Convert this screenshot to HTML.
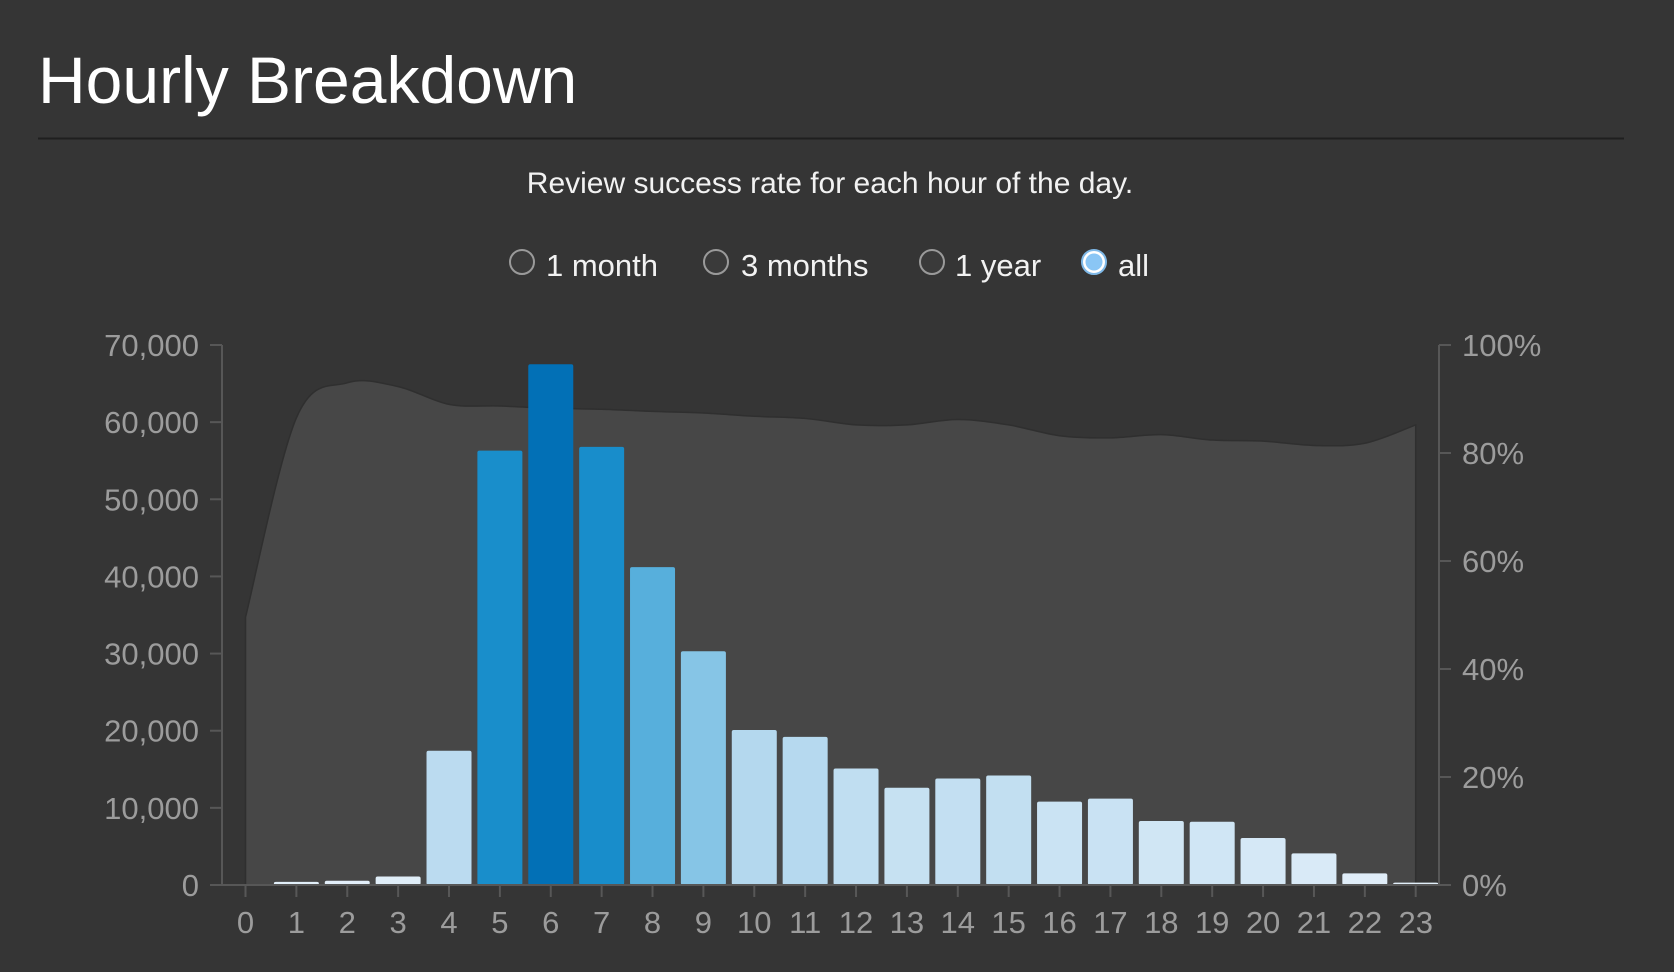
<!DOCTYPE html>
<html><head><meta charset="utf-8">
<style>
html,body{margin:0;padding:0;background:#353535;width:1674px;height:972px;overflow:hidden;font-family:"Liberation Sans",sans-serif;}
svg{position:absolute;left:0;top:0}
</style></head>
<body>
<svg id="chart" width="1674" height="972">
  <text x="38" y="103" font-size="66" fill="#ffffff">Hourly Breakdown</text>
  <line x1="38" y1="138.5" x2="1624" y2="138.5" stroke="#1f1f1f" stroke-width="2"/>
  <text x="830" y="193" font-size="30" fill="#f2f2f2" text-anchor="middle">Review success rate for each hour of the day.</text>
  <g font-size="31" fill="#f2f2f2">
    <g><circle cx="522" cy="262" r="12" fill="#3a3a3a" stroke="#9a9a9a" stroke-width="2"/><text x="546" y="276">1 month</text></g>
    <g><circle cx="716" cy="262" r="12" fill="#3a3a3a" stroke="#9a9a9a" stroke-width="2"/><text x="741" y="276">3 months</text></g>
    <g><circle cx="932" cy="262" r="12" fill="#3a3a3a" stroke="#9a9a9a" stroke-width="2"/><text x="955" y="276">1 year</text></g>
    <g><circle cx="1094" cy="262" r="12" fill="#ffffff" stroke="#7fb9e8" stroke-width="2"/><circle cx="1094" cy="262" r="8.5" fill="#8ac6f5"/><text x="1118" y="276">all</text></g>
  </g>
  <g id="plot"></g>
</svg>
<script>
const hours = ["0","1","2","3","4","5","6","7","8","9","10","11","12","13","14","15","16","17","18","19","20","21","22","23"];
const reviewCounts = [0,400,550,1100,17400,56300,67500,56800,41200,30300,20100,19200,15100,12600,13800,14200,10800,11200,8300,8200,6100,4100,1500,300];
const successRate = [49.6,86.5,93,92.3,89,88.7,88.3,88.1,87.7,87.4,86.8,86.4,85.2,85.2,86.2,85.2,83.2,82.8,83.4,82.4,82.2,81.4,81.8,85.2];
const countTicks = [0,10000,20000,30000,40000,50000,60000,70000];
const pctTicks = [0,20,40,60,80,100];

const NS="http://www.w3.org/2000/svg";
const plot=document.getElementById('plot');
const x0=245.5, x23=1415.7, step=(x23-x0)/23, barW=45;
const yTop=345, yBot=885;
const xScale=i=>x0+i*step;
const yCount=v=>yBot-(v/70000)*(yBot-yTop);
const yPct=v=>yBot-(v/100)*(yBot-yTop);
function mk(tag,attrs,parent){const e=document.createElementNS(NS,tag);for(const k in attrs)e.setAttribute(k,attrs[k]);(parent||plot).appendChild(e);return e;}

// success area
let pts=successRate.map((v,i)=>[xScale(i),yPct(v)]);
let d=`M${pts[0][0]},${yBot} L${pts[0][0]},${pts[0][1]}`;
for(let i=0;i<pts.length-1;i++){
  const p0=pts[Math.max(0,i-1)],p1=pts[i],p2=pts[i+1],p3=pts[Math.min(pts.length-1,i+2)];
  const c1=[p1[0]+(p2[0]-p0[0])/6,p1[1]+(p2[1]-p0[1])/6];
  const c2=[p2[0]-(p3[0]-p1[0])/6,p2[1]-(p3[1]-p1[1])/6];
  d+=` C${c1[0]},${c1[1]} ${c2[0]},${c2[1]} ${p2[0]},${p2[1]}`;
}
d+=` L${pts[pts.length-1][0]},${yBot} Z`;
const area=mk('path',{d:d,fill:'#474747',stroke:'#2f2f2f','stroke-width':1.5});



// colors
const stops=[[0,[227,239,249]],[0.3,[180,216,238]],[0.45,[134,197,230]],[0.6,[90,177,221]],[0.83,[26,143,204]],[1,[2,112,182]]];
function col(f){for(let i=0;i<stops.length-1;i++){const a=stops[i],b=stops[i+1];if(f<=b[0]){const t=(f-a[0])/(b[0]-a[0]);const c=a[1].map((v,k)=>Math.round(v+(b[1][k]-v)*t));return `rgb(${c})`;}}return 'rgb(2,112,182)';}
const maxC=Math.max(...reviewCounts);
reviewCounts.forEach((v,i)=>{
  if(v<=0)return;
  const y=yCount(v);
  const r=mk('rect',{x:xScale(i)-barW/2,y:y,width:barW,height:Math.max(yBot-y,2),rx:2,fill:col(v/maxC)});
  
  
});

// axes
const ax=mk('g',{stroke:'#575757','stroke-width':2,fill:'none'});


mk('line',{x1:222,y1:yTop,x2:222,y2:yBot},ax);
mk('line',{x1:212,y1:yBot,x2:1449,y2:yBot},ax);
mk('line',{x1:1439,y1:yTop,x2:1439,y2:yBot},ax);
const lab=mk('g',{fill:'#9c9c9c','font-size':31});


countTicks.forEach(v=>{
  const y=yCount(v);
  mk('line',{x1:210,y1:y,x2:222,y2:y},ax);
  const t=mk('text',{x:199,y:y+11,'text-anchor':'end'},lab);
  t.textContent=v.toLocaleString('en-US');
  
  
});
pctTicks.forEach(v=>{
  const y=yPct(v);
  mk('line',{x1:1439,y1:y,x2:1451,y2:y},ax);
  const t=mk('text',{x:1462,y:y+11,'text-anchor':'start'},lab);
  t.textContent=v+'%';
  
  
});
hours.forEach((h,i)=>{
  const x=xScale(i);
  mk('line',{x1:x,y1:yBot,x2:x,y2:yBot+12},ax);
  const t=mk('text',{x:x,y:933,'text-anchor':'middle'},lab);
  t.textContent=h;
  
  
});
</script>
</body></html>
